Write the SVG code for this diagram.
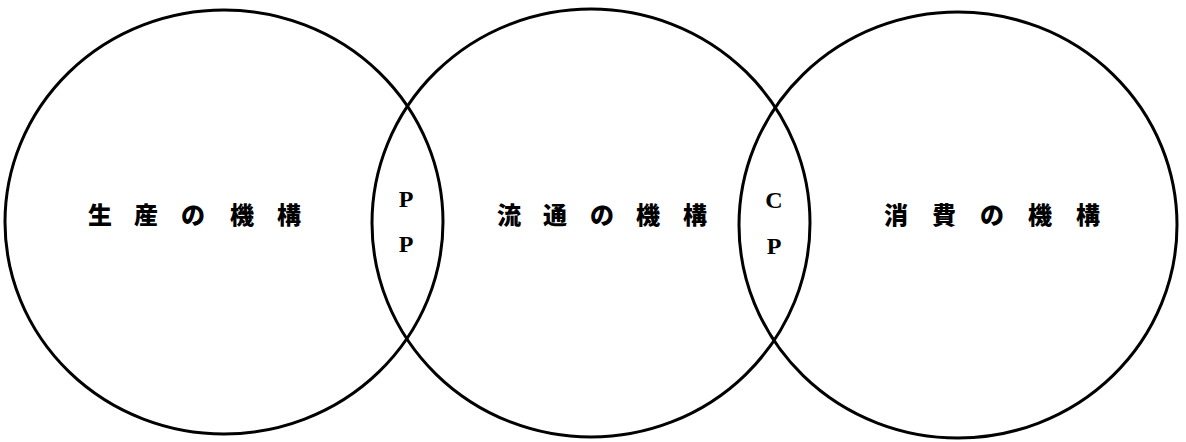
<svg xmlns="http://www.w3.org/2000/svg" width="1186" height="442" viewBox="0 0 1186 442">
<style>
.c{fill:none;stroke:#000;stroke-width:3}
.t{font-family:"Noto Sans CJK JP","Noto Sans CJK SC",sans-serif;font-size:24px;font-weight:900;fill:#000}
.l{font-family:"Liberation Serif",serif;font-size:24px;font-weight:bold;fill:#000;text-anchor:middle}
</style>
<rect width="1186" height="442" fill="#fff"/>
<g id="production">
<ellipse class="c" cx="224" cy="222" rx="219" ry="212"/>
<text class="t" x="88 134 181 230 277" y="224">生産の機構</text>
</g>
<g id="distribution">
<ellipse class="c" cx="591" cy="223" rx="219" ry="214"/>
<text class="t" x="497 543 590 636 683" y="224">流通の機構</text>
</g>
<g id="consumption">
<ellipse class="c" cx="958" cy="225" rx="219" ry="213"/>
<text class="t" x="884 932 980 1028 1076" y="224">消費の機構</text>
</g>
<g id="pp">
<text class="l" x="406" y="207">P</text>
<text class="l" x="406" y="252">P</text>
</g>
<g id="cp">
<text class="l" x="774" y="208">C</text>
<text class="l" x="774" y="254">P</text>
</g>
<g id="connectors"></g>
</svg>
